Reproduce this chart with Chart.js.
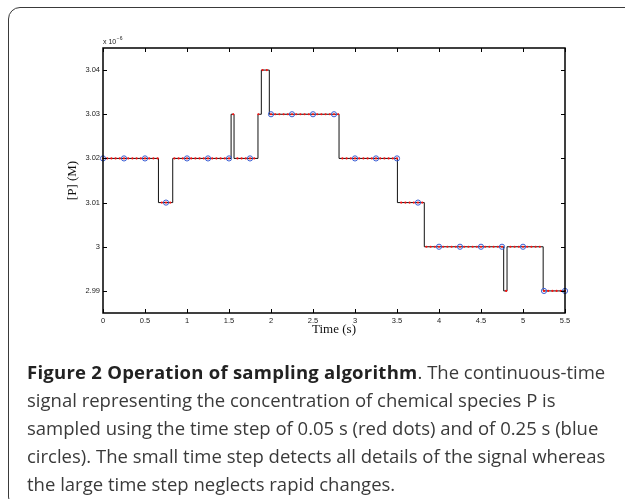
<!DOCTYPE html>
<html>
<head>
<meta charset="utf-8">
<script src="https://cdn.jsdelivr.net/npm/chart.js@4.4.0/dist/chart.umd.min.js"></script>
<style>
html, body { margin: 0; padding: 0; background: #fff; }
#wrap { position: relative; width: 625px; height: 499px; overflow: hidden; }
#frame { position: absolute; left: 8px; top: 7px; width: 660px; height: 502px; border: 1.5px solid #3a3a3a; border-radius: 12px; box-sizing: border-box; }
#c { position: absolute; left: 0; top: 0; }
#caption { position: absolute; left: 27px; top: 358px; width: 600px; font-family: "Open Sans"; font-size: 18.5px; line-height: 28px; color: #3a3a3a; }
#caption div { white-space: nowrap; text-align: left; }
#caption b { color: #222; font-weight: 700; letter-spacing: 0.25px; }
</style>
</head>
<body>
<div id="wrap">
  <div id="frame"></div>
  <canvas id="c" width="625" height="499"></canvas>
  <div id="caption">
    <div><b>Figure 2 Operation of sampling algorithm</b>. The continuous-time</div>
    <div>signal representing the concentration of chemical species P is</div>
    <div>sampled using the time step of 0.05 s (red dots) and of 0.25 s (blue</div>
    <div>circles). The small time step detects all details of the signal whereas</div>
    <div>the large time step neglects rapid changes.</div>
  </div>
</div>
<script>
// continuous-time signal, break points (value holds until next time), units of 1e-6 M
var signalTimes  = [0, 0.66, 0.83, 1.525, 1.56, 1.845, 1.885, 1.98, 2.81, 3.505, 3.825, 4.77, 4.81, 5.24, 5.5];
var signalValues = [3.02, 3.01, 3.02, 3.03, 3.02, 3.03, 3.04, 3.03, 3.02, 3.01, 3.00, 2.99, 3.00, 2.99, 2.99];

// samples with step 0.05 s (red dots)
var fineTimes = [0, 0.05, 0.1, 0.15, 0.2, 0.25, 0.3, 0.35, 0.4, 0.45, 0.5, 0.55, 0.6, 0.65, 0.7, 0.75, 0.8, 0.85, 0.9, 0.95,
  1, 1.05, 1.1, 1.15, 1.2, 1.25, 1.3, 1.35, 1.4, 1.45, 1.5, 1.55, 1.6, 1.65, 1.7, 1.75, 1.8, 1.85, 1.9, 1.95,
  2, 2.05, 2.1, 2.15, 2.2, 2.25, 2.3, 2.35, 2.4, 2.45, 2.5, 2.55, 2.6, 2.65, 2.7, 2.75, 2.8, 2.85, 2.9, 2.95,
  3, 3.05, 3.1, 3.15, 3.2, 3.25, 3.3, 3.35, 3.4, 3.45, 3.5, 3.55, 3.6, 3.65, 3.7, 3.75, 3.8, 3.85, 3.9, 3.95,
  4, 4.05, 4.1, 4.15, 4.2, 4.25, 4.3, 4.35, 4.4, 4.45, 4.5, 4.55, 4.6, 4.65, 4.7, 4.75, 4.8, 4.85, 4.9, 4.95,
  5, 5.05, 5.1, 5.15, 5.2, 5.25, 5.3, 5.35, 5.4, 5.45, 5.5];
var fineValues = [3.02, 3.02, 3.02, 3.02, 3.02, 3.02, 3.02, 3.02, 3.02, 3.02, 3.02, 3.02, 3.02, 3.02, 3.01, 3.01, 3.01, 3.02, 3.02, 3.02,
  3.02, 3.02, 3.02, 3.02, 3.02, 3.02, 3.02, 3.02, 3.02, 3.02, 3.02, 3.03, 3.02, 3.02, 3.02, 3.02, 3.02, 3.03, 3.04, 3.04,
  3.03, 3.03, 3.03, 3.03, 3.03, 3.03, 3.03, 3.03, 3.03, 3.03, 3.03, 3.03, 3.03, 3.03, 3.03, 3.03, 3.03, 3.02, 3.02, 3.02,
  3.02, 3.02, 3.02, 3.02, 3.02, 3.02, 3.02, 3.02, 3.02, 3.02, 3.02, 3.01, 3.01, 3.01, 3.01, 3.01, 3.01, 3.00, 3.00, 3.00,
  3.00, 3.00, 3.00, 3.00, 3.00, 3.00, 3.00, 3.00, 3.00, 3.00, 3.00, 3.00, 3.00, 3.00, 3.00, 3.00, 2.99, 3.00, 3.00, 3.00,
  3.00, 3.00, 3.00, 3.00, 3.00, 2.99, 2.99, 2.99, 2.99, 2.99, 2.99];

// samples with step 0.25 s (blue circles)
var coarseTimes  = [0, 0.25, 0.5, 0.75, 1, 1.25, 1.5, 1.75, 2, 2.25, 2.5, 2.75, 3, 3.25, 3.5, 3.75, 4, 4.25, 4.5, 4.75, 5, 5.25, 5.5];
var coarseValues = [3.02, 3.02, 3.02, 3.01, 3.02, 3.02, 3.02, 3.02, 3.03, 3.03, 3.03, 3.03, 3.02, 3.02, 3.02, 3.01, 3.00, 3.00, 3.00, 3.00, 3.00, 2.99, 2.99];

var xTicks = [0, 0.5, 1, 1.5, 2, 2.5, 3, 3.5, 4, 4.5, 5, 5.5];
var yTicks = [2.99, 3.00, 3.01, 3.02, 3.03, 3.04];

function pts(xs, ys) {
    return xs.map(function (t, i) { return { x: t, y: ys[i] }; });
}

// matlab style box with inward ticks and the exponent label
var matlabBox = {
    id: 'matlabBox',
    afterDatasetsDraw: function (chart) {
        var ctx = chart.ctx, a = chart.chartArea;
        var xs = chart.scales.x, ys = chart.scales.y;
        ctx.save();
        ctx.strokeStyle = '#000';
        ctx.lineWidth = 1;
        ctx.beginPath();
        xTicks.forEach(function (v) {
            var px = Math.round(xs.getPixelForValue(v)) + 0.5;
            ctx.moveTo(px, a.bottom); ctx.lineTo(px, a.bottom - 4);
            ctx.moveTo(px, a.top); ctx.lineTo(px, a.top + 4);
        });
        yTicks.forEach(function (v) {
            var py = Math.round(ys.getPixelForValue(v)) + 0.5;
            ctx.moveTo(a.left, py); ctx.lineTo(a.left + 4, py);
            ctx.moveTo(a.right, py); ctx.lineTo(a.right - 4, py);
        });
        ctx.stroke();
        ctx.lineWidth = 1.5;
        ctx.strokeRect(a.left, a.top, a.right - a.left, a.bottom - a.top);

        ctx.fillStyle = '#222';
        ctx.textBaseline = 'alphabetic';
        ctx.font = '7px "Liberation Sans"';
        ctx.fillText('x 10', a.left, a.top - 4);
        var w = ctx.measureText('x 10').width;
        ctx.font = '5px "Liberation Sans"';
        ctx.fillText('\u22126', a.left + w + 0.5, a.top - 8);
        ctx.restore();
    }
};

var tickFont = { family: '"Liberation Sans", Arial, sans-serif', size: 7.5 };
var titleFont = { family: '"Liberation Serif", "Times New Roman", serif', size: 13 };

new Chart(document.getElementById('c').getContext('2d'), {
    type: 'scatter',
    data: {
        datasets: [
            {
                label: 'step 0.25 s',
                data: pts(coarseTimes, coarseValues),
                showLine: false,
                pointStyle: 'circle',
                pointRadius: 2.6,
                pointBorderWidth: 1,
                pointBorderColor: '#3d5fd3',
                pointBackgroundColor: 'rgba(0,0,0,0)',
                clip: false,
                order: 0
            },
            {
                label: 'step 0.05 s',
                data: pts(fineTimes, fineValues),
                showLine: false,
                pointStyle: 'circle',
                pointRadius: 1.1,
                pointBorderWidth: 0,
                pointBackgroundColor: '#ff1010',
                clip: false,
                order: 1
            },
            {
                label: 'signal',
                data: pts(signalTimes, signalValues),
                showLine: true,
                stepped: true,
                borderColor: '#111',
                borderWidth: 1,
                pointRadius: 0,
                order: 2
            }
        ]
    },
    options: {
        responsive: false,
        animation: false,
        events: [],
        layout: { padding: { left: 60, top: 48, right: 60, bottom: 160 } },
        plugins: { legend: { display: false }, tooltip: { enabled: false } },
        scales: {
            x: {
                type: 'linear',
                min: 0,
                max: 5.5,
                grid: { display: false, drawTicks: false },
                border: { display: false },
                afterBuildTicks: function (s) { s.ticks = xTicks.map(function (v) { return { value: v }; }); },
                afterFit: function (s) { s.height = 26; s.paddingLeft = 0; s.paddingRight = 0; },
                ticks: { font: tickFont, color: '#222', padding: 3, maxRotation: 0, autoSkip: false,
                    callback: function (v) { return String(+v.toFixed(2)); } },
                title: { display: true, text: 'Time (s)', font: titleFont, color: '#111', padding: { top: 0, bottom: 2 } }
            },
            y: {
                type: 'linear',
                min: 2.985,
                max: 3.045,
                grid: { display: false, drawTicks: false },
                border: { display: false },
                afterBuildTicks: function (s) { s.ticks = yTicks.map(function (v) { return { value: v }; }); },
                afterFit: function (s) { s.width = 43; s.paddingTop = 0; s.paddingBottom = 0; },
                ticks: { font: tickFont, color: '#222', padding: 3, autoSkip: false,
                    callback: function (v) { return String(+v.toFixed(2)); } },
                title: { display: true, text: '[P] (M)', font: titleFont, color: '#111', padding: { top: 5, bottom: 0 } }
            }
        }
    },
    plugins: [matlabBox]
});
</script>
</body>
</html>
